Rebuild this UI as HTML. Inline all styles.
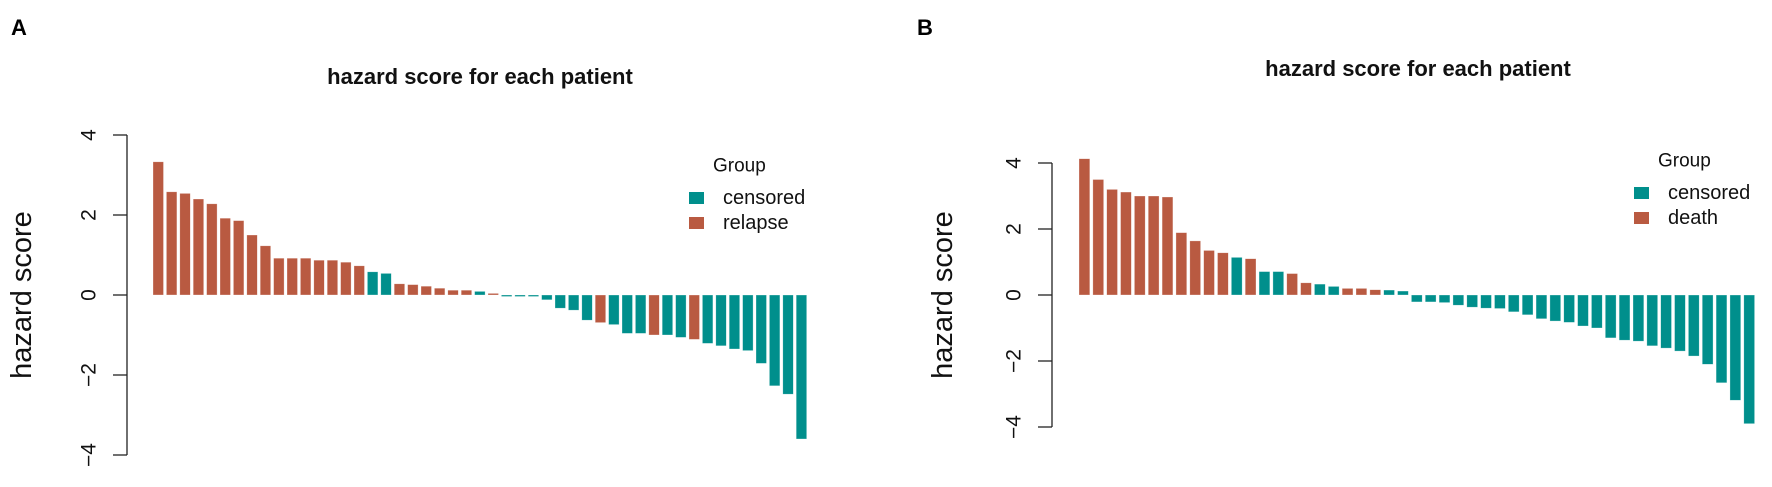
<!DOCTYPE html>
<html><head><meta charset="utf-8"><style>
html,body{margin:0;padding:0;background:#fff}
svg{display:block;font-family:"Liberation Sans",Arial,sans-serif}
</style></head><body>
<svg id="fig" width="1772" height="487" viewBox="0 0 1772 487"></svg>
<script>
const catsA = Array.from({length:49},(_,i)=>'P'+(i+1));
const valuesA = [3.33,2.58,2.54,2.4,2.28,1.92,1.86,1.5,1.23,0.92,0.92,0.92,0.87,0.87,0.82,0.73,
 0.58,0.54,0.28,0.26,0.22,0.17,0.12,0.12,0.09,0.04,-0.03,-0.03,-0.03,-0.12,-0.33,-0.38,-0.63,
 -0.69,-0.74,-0.96,-0.96,-1.0,-1.0,-1.06,-1.11,-1.21,-1.27,-1.35,-1.39,-1.71,-2.27,-2.48,-3.6];
const groupsA = ['r','r','r','r','r','r','r','r','r','r','r','r','r','r','r','r',
 'c','c','r','r','r','r','r','r','c','r','c','c','c','c','c','c','c',
 'r','c','c','c','r','c','c','r','c','c','c','c','c','c','c','c'];
const catsB = Array.from({length:49},(_,i)=>'P'+(i+1));
const valuesB = [4.13,3.5,3.2,3.12,3.0,3.0,2.97,1.89,1.64,1.35,1.28,1.14,1.1,0.71,0.71,0.65,0.37,0.33,0.26,0.2,0.2,0.16,0.15,0.12,
 -0.21,-0.21,-0.23,-0.31,-0.37,-0.4,-0.41,-0.51,-0.6,-0.72,-0.79,-0.83,-0.94,-1.0,-1.3,-1.37,-1.4,-1.54,-1.61,-1.7,-1.85,-2.1,-2.66,-3.19,-3.9];
const groupsB = ['r','r','r','r','r','r','r','r','r','r','r','c','r','c','c','r','r','c','c','r','r','r','c','c',
 'c','c','c','c','c','c','c','c','c','c','c','c','c','c','c','c','c','c','c','c','c','c','c','c','c'];
const yTicks = [4,2,0,-2,-4];
const tickLabels = ['4','2','0','\u22122','\u22124'];

const NS='http://www.w3.org/2000/svg';
const svg=document.getElementById('fig');
function mk(tag,attrs,parent){const e=document.createElementNS(NS,tag);for(const k in attrs)e.setAttribute(k,attrs[k]);(parent||svg).appendChild(e);return e;}
const COL={c:'#008f8c',r:'#b95a41'};

function panel(cfg){
  const g=mk('g',{});
  
  
  const y=v=>cfg.zeroY - v*cfg.unit;
  const x=i=>cfg.x0 + i*cfg.pitch;
  // letter
  const L=mk('text',{x:cfg.letterX,y:35,'font-size':22,'font-weight':'bold',fill:'#000'},g);
  L.textContent=cfg.letter;
  
  
  // title
  const T=mk('text',{x:cfg.titleX,y:cfg.titleY,'font-size':22,'font-weight':'bold','text-anchor':'middle',fill:'#111'},g);
  T.textContent='hazard score for each patient';
  
  
  // y axis
  const ax=mk('line',{x1:cfg.axisX,x2:cfg.axisX,y1:y(4),y2:y(-4),stroke:'#222','stroke-width':1.3},g);
  
  
  yTicks.forEach((t,k)=>{
    const tk=mk('line',{x1:cfg.axisX-14,x2:cfg.axisX,y1:y(t),y2:y(t),stroke:'#222','stroke-width':1.3},g);
    
    
    const tl=mk('text',{x:0,y:0,'font-size':21,'text-anchor':'middle',fill:'#111',
      transform:`translate(${cfg.axisX-38},${y(t)}) rotate(-90)`,'dominant-baseline':'central'},g);
    tl.textContent=tickLabels[k];
    
    
  });
  const yl=mk('text',{x:0,y:0,'font-size':29,'text-anchor':'middle',fill:'#111',
    transform:`translate(${cfg.ylabX},${cfg.zeroY}) rotate(-90)`,'dominant-baseline':'central'},g);
  yl.textContent='hazard score';
  
  
  // bars
  cfg.values.forEach((v,i)=>{
    const top=Math.min(y(v),y(0)), h=Math.max(Math.abs(y(v)-y(0)),1.5);
    const b=mk('rect',{x:x(i),y:top,width:cfg.bw,height:h,fill:COL[cfg.groups[i]],stroke:'#fff','stroke-opacity':0.5,'stroke-width':0.6},g);
    
    
  });
  // legend
  const lg=mk('g',{},g);
  
  
  const gt=mk('text',{x:cfg.legX+24,y:cfg.legY,'font-size':19,fill:'#111','dominant-baseline':'central'},lg);
  gt.textContent='Group';
  
  
  [['c','censored'],['r',cfg.eventName]].forEach((e,k)=>{
    const cy=cfg.legY+32+k*25;
    const s=mk('rect',{x:cfg.legX,y:cy-6,width:15,height:12,fill:COL[e[0]]},lg);
    
    
    const t=mk('text',{x:cfg.legX+34,y:cy,'font-size':20,fill:'#111','dominant-baseline':'central'},lg);
    t.textContent=e[1];
    
    
  });
}
panel({name:'panel-a',letter:'A',letterX:11,titleX:480,titleY:84,zeroY:295,unit:40,axisX:127,ylabX:22,
  x0:153,pitch:13.4,bw:10.5,values:valuesA,groups:groupsA,cats:catsA,legX:689,legY:166,eventName:'relapse'});
panel({name:'panel-b',letter:'B',letterX:917,titleX:1418,titleY:76,zeroY:295,unit:33,axisX:1052,ylabX:943,
  x0:1079,pitch:13.85,bw:10.8,values:valuesB,groups:groupsB,cats:catsB,legX:1634,legY:161,eventName:'death'});
</script>
</body></html>
